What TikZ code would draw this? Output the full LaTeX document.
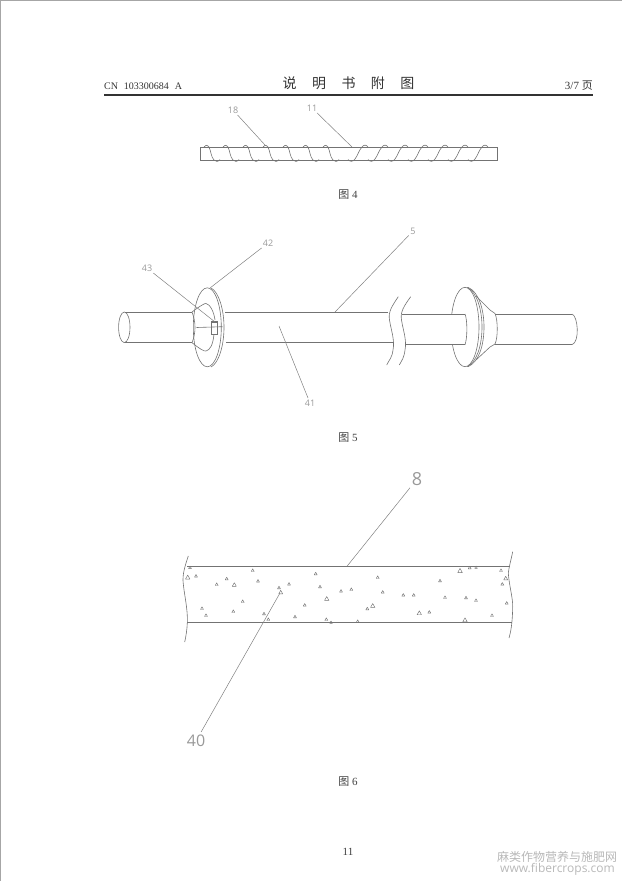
\documentclass[tikz,border=0pt]{standalone}
\usepackage{fontspec}
\setmainfont{Liberation Serif}
\newfontfamily\cjk{Noto Sans CJK SC}
\newfontfamily\cad{Open Sans}
\definecolor{ink}{gray}{0.45}
\definecolor{lead}{gray}{0.5}
\definecolor{cadtext}{gray}{0.6}
\definecolor{mark}{gray}{0.72}
\tikzset{
  part/.style={draw=ink,line width=0.6pt},
  leader/.style={draw=lead,line width=0.5pt},
  cadlabel/.style={text=cadtext,font=\cad\fontsize{9}{10}\selectfont,inner sep=1.5pt},
  caption/.style={text=black!75,inner sep=0pt,font=\fontsize{11}{13}\selectfont},
  headtext/.style={text=black!80,inner sep=0pt},
  speck/.style={draw=ink,line width=0.45pt,line join=round},
}
\newcommand{\tri}[3]{\draw[speck] (#1-#3,#2+#3*0.8) -- (#1+#3,#2+#3*0.8) -- (#1,#2-#3) -- cycle;}
\begin{document}
\begin{tikzpicture}[x=1pt,y=-1pt]
\useasboundingbox (0,0) rectangle (622,881);
\fill[black!35] (0,0) rectangle (622,1.3);
\fill[black!35] (0,0) rectangle (1.3,881);
% header
\node[headtext,anchor=west,font=\fontsize{10}{12}\selectfont] (hl) at (104,86.5) {CN\,\, 103300684\,\, A};
\node[headtext,font=\cjk\fontsize{14}{16}\selectfont] (ht) at (348.5,83) {说\hspace{1.1em}明\hspace{1.1em}书\hspace{1.1em}附\hspace{1.1em}图};
\node[headtext,anchor=east,font=\fontsize{11}{13}\selectfont] (hr) at (593,86) {3/7 {\cjk 页}};
\coordinate (ra) at (104,95); \coordinate (rb) at (593,95);
\draw[black!80,line width=1.4pt] (ra) -- (rb);
% Figure 4
\draw[part] (200,147) rectangle (497,160);
\foreach \t in {206,225,245,265,285,305,325}{
  \draw[part] (\t-2,147) .. controls (\t-1,145) and (\t+1,144.5) .. (\t+3,147)
     .. controls (\t+5,151) and (\t+5,157) .. (\t+8,160)
     .. controls (\t+10,162) and (\t+12,162) .. (\t+14,159.5);
}
\foreach \t in {368,388,408,428,448,468,488}{
  \draw[part] (\t-20,159.5) .. controls (\t-18,162) and (\t-15,162) .. (\t-13,159)
     .. controls (\t-10,155) and (\t-9,150) .. (\t-6,147)
     .. controls (\t-4,144.5) and (\t-2,144.5) .. (\t,147);
}
\node[cadlabel] (l18) at (233,110) {18};
\node[cadlabel] (l11) at (312,108) {11};
\coordinate (e18) at (265,145);
\coordinate (e11) at (352,147);
\draw[leader] (l18) -- (e18);
\draw[leader] (l11) -- (e11);
\node[caption] (c4) at (348,195) {{\cjk 图} 4};
% Figure 5 left
\draw[part] (124.3,327.3) ellipse [x radius=5.7,y radius=15.3];
\draw[part] (125,312) -- (192,312);
\draw[part] (125,342.7) -- (192,342.7);
\draw[part] (192,312) .. controls (196,322) and (196,333) .. (192,342.7);
\draw[part] (207.3,327.3) ellipse [x radius=14,y radius=39.5];
\draw[part] (211,288) .. controls (219,292) and (224,310) .. (224,327.3) .. controls (224,345) and (219,363) .. (211,367);
\draw[part] (192,312) .. controls (200,306) and (205,303) .. (206,303.5) .. controls (210,304) and (214,312) .. (215,320);
\draw[part] (192,342.7) .. controls (200,349) and (204,351.5) .. (206,351) .. controls (210,350) and (213,345) .. (214,334);
\draw[part,fill=white] (211,321.5) rectangle (217.5,334);
\fill[ink] (212,321) rectangle (217,323);
\draw[part] (196.5,327.5) -- (222.5,326.7);
\draw[part] (225,312) -- (388,312);
\draw[part] (226,342.7) -- (393,342.7);
% break
\draw[part] (398.3,296.7) .. controls (392,306) and (388,312) .. (389.5,320) .. controls (391,330) and (395,340) .. (393,350) .. controls (392,358) and (389,360) .. (386.7,365);
\draw[part] (410.7,296.7) .. controls (404,306) and (400,312) .. (401.5,320) .. controls (403,330) and (407,340) .. (405,350) .. controls (404,358) and (402,360) .. (399.3,365);
% Figure 5 right
\draw[part] (465,327) ellipse [x radius=14,y radius=39.7];
\fill[white] (440,314) rectangle (465,344.7);
\fill[white] (465,314) .. controls (467.5,320) and (467.5,338) .. (465,344.7) -- cycle;
\draw[part] (402,314) -- (465,314);
\draw[part] (406,344.7) -- (465,344.7);
\draw[part] (465,314) .. controls (467.5,320) and (467.5,338) .. (465,344.7);
\draw[part] (467,287.3) .. controls (477,292) and (482,310) .. (482,327) .. controls (482,345) and (477,362) .. (467,366.7);
\draw[part] (468,287.3) .. controls (479,292) and (484,310) .. (484,327) .. controls (484,345) and (479,362) .. (468,366.7);
\draw[part] (476,296) -- (490,310) -- (495,313.5);
\draw[part] (476,360) -- (490,347) -- (495,344);
\draw[part] (495,313.5) .. controls (498,320) and (498,338) .. (495,344);
\draw[part] (495,314) -- (572,314);
\draw[part] (495,344.7) -- (572,344.7);
\draw[part] (572,314) .. controls (578,316) and (580,342) .. (572,344.7);
\node[cadlabel] (l43) at (147,268) {43};
\node[cadlabel] (l42) at (268,243) {42};
\node[cadlabel] (l5) at (413,231) {5};
\node[cadlabel] (l41) at (310,403) {41};
\coordinate (e43) at (215,322);
\coordinate (e42) at (210,288);
\coordinate (e5) at (335,312);
\coordinate (e41) at (279,326);
\draw[leader] (l43) -- (e43);
\draw[leader] (l42) -- (e42);
\draw[leader] (l5) -- (e5);
\draw[leader] (l41) -- (e41);
\node[caption] (c5) at (348,438) {{\cjk 图} 5};
% Figure 6
\draw[part] (187,566.3) -- (510,566.3);
\draw[part] (187,622.7) -- (512,622.7);
\draw[part] (188.3,556) .. controls (185,566) and (182,575) .. (183.3,584) .. controls (184.5,596) and (188,610) .. (187.3,623) .. controls (187,630) and (186,636) .. (184.7,642);
\draw[part] (512.7,551.7) .. controls (511,560) and (509,567) .. (508.3,573) .. controls (509,585) and (513,598) .. (512.7,607) .. controls (512.5,616) and (512,628) .. (509,638);
\foreach \x/\y/\s in {190/567.5/1.4,187.7/577.3/2.2,196/576/1.5,216.7/584.3/1.5,226.7/578.7/1.5,234.3/584.7/2,252.7/570.3/1.5,258/581/1.5,279/587.7/1.5,289/584/1.5,280.7/592.3/2,315.7/573.7/1.5,320/586.7/1.5,341/591/1.5,326.7/598.7/2.2,304.7/605/1.5,242.7/601.3/1.5,202/608.3/1.5,206/615.3/1.5,233.3/611.3/1.5,264/613.7/1.5,268.3/619.3/1.5,295/616.7/1.5,326.3/619.3/1.5,331/622.3/1.3,377.7/577.3/1.5,351.3/589.3/1.5,382.7/592/1.5,403.3/595/1.5,413.7/595/1.5,440/580.7/1.5,460/570.7/2.3,469.7/567.7/1.5,476/567.3/1.3,501/570.3/1.5,505.7/578.3/2,502.3/584/1.5,445/597.3/1.5,466/597.7/1.5,476/600.3/1.5,506.7/603/1.5,492/615.3/1.5,465/620/2.2,419.3/613/2.2,429.3/612/1.5,372.7/605.7/2.2,367.3/608.7/1.5,357.7/621.3/1.5}{
  \tri{\x}{\y}{\s}
}
\node[cadlabel,font=\cad\fontsize{18}{20}\selectfont,inner sep=2pt] (l8) at (417,479) {8};
\node[cadlabel,font=\cad\fontsize{16}{18}\selectfont,inner sep=3pt] (l40) at (196,741) {40};
\coordinate (e8) at (347,566.3);
\coordinate (e40) at (280,593);
\draw[leader] (l8) -- (e8);
\draw[leader] (l40) -- (e40);
\node[caption] (c6) at (348,782) {{\cjk 图} 6};
\node[caption] (pg) at (348,852) {11};
% watermark
\node[inner sep=0pt,text=mark,font=\cjk\fontsize{12}{14}\selectfont] (w1) at (557,857) {麻类作物营养与施肥网};
\node[inner sep=0pt,text=mark,font=\cad\fontsize{12}{14}\selectfont] (w2) at (557.5,869.5) {www.fibercrops.com};
\end{tikzpicture}
\end{document}
